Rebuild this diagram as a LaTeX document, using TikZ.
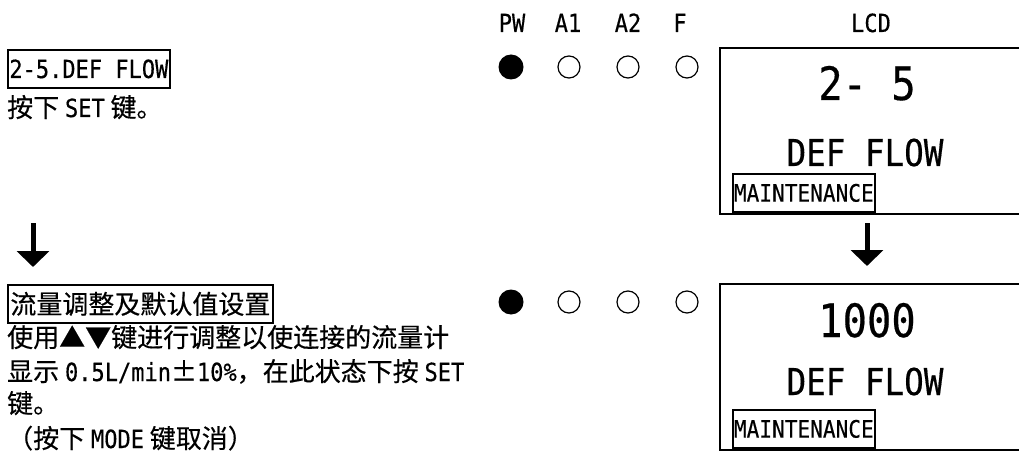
\documentclass[tikz,border=0pt]{standalone}
\usepackage{fontspec}
\setmainfont{Noto Sans CJK SC}[FakeBold=0.4]
\newfontfamily\lcdfont[FakeStretch=0.88,FakeBold=0.4]{DejaVu Sans Mono}
\usetikzlibrary{positioning,arrows.meta}
\newcommand{\lcdsize}[1]{\lcdfont\fontsize{#1}{#1}\selectfont}
\newcommand{\en}[1]{{\lcdfont\fontsize{25}{34}\selectfont #1}}

\begin{document}
\begin{tikzpicture}[x=1pt,y=-1pt,
  every node/.style={font=\fontsize{26}{34}\selectfont,inner sep=0pt},
  led/.style={circle,draw,line width=1.2pt,minimum size=22pt},
  ledon/.style={circle,fill=black,minimum size=25pt},
  ledname/.style={anchor=base,font=\lcdsize{25}},
  titlebox/.style={draw,line width=1.8pt,anchor=north west,minimum height=38pt,inner xsep=1.5pt},
  lcdbox/.style={draw,line width=1.8pt,anchor=north west,minimum width=340pt,minimum height=166pt},
  lcdtag/.style={draw,line width=1.8pt,anchor=north west,minimum height=38pt,inner xsep=1pt,font=\lcdsize{24}},
  flowarrow/.style={line width=5pt,-{Triangle[width=32pt,length=16pt]}}]
\useasboundingbox (0,0) rectangle (1019,465);
\clip (0,0) rectangle (1019,465);

\node[ledname] (hpw) at (512,32) {PW};
\node[ledname] (ha1) at (568,32) {A1};
\node[ledname] (ha2) at (628,32) {A2};
\node[ledname] (hf) at (680,32) {F};
\node[ledname] (hlcd) at (871,32) {LCD};

% 2-5
\node[titlebox] (step1) at (7,49) {\en{2-5.DEF FLOW}};
\node[anchor=base west] (step1txt) at (7,117) {按下 \en{SET} 键。};

\node[ledon] (pw-1) at (511,67) {};
\foreach \x/\nm in {569/a1,628/a2,687/f}
  \node[led] (\nm-1) at (\x,67) {};

\node[lcdbox] (lcd1) at (719,47) {};
\node[anchor=base,font=\lcdsize{46}] (val1) at (867,100) {2- 5};
\node[anchor=base,font=\lcdsize{37}] (name1) at (865,166) {DEF FLOW};
\node[lcdtag] (tag1) at (732,173) {MAINTENANCE};

\coordinate (arrl1) at (33,223);
\coordinate (arrl2) at (33,267);
\coordinate (arrr1) at (867,223);
\coordinate (arrr2) at (867,266);
\draw[flowarrow] (arrl1) -- (arrl2);
\draw[flowarrow] (arrr1) -- (arrr2);

% default flow
\node[titlebox,inner xsep=2.5pt] (step2) at (7,284) {流量调整及默认值设置};
\node[anchor=base west] (line1) at (7,347) {使用▲▼键进行调整以使连接的流量计};
\node[anchor=base west] (line2) at (7,381) {显示 \en{0.5L/min}±\en{10\%}，在此状态下按 \en{SET}};
\node[anchor=base west] (line3) at (7,413) {键。};
\node[anchor=base west] (line4) at (7,448) {（按下 \en{MODE} 键取消）};

\node[ledon] (pw-2) at (511,302) {};
\foreach \x/\nm in {569/a1,628/a2,687/f}
  \node[led] (\nm-2) at (\x,302) {};

\node[lcdbox] (lcd2) at (719,283) {};
\node[anchor=base,font=\lcdsize{46}] (val2) at (867,337) {1000};
\node[anchor=base,font=\lcdsize{37}] (name2) at (865,395) {DEF FLOW};
\node[lcdtag] (tag2) at (732,409) {MAINTENANCE};
\end{tikzpicture}
\end{document}
